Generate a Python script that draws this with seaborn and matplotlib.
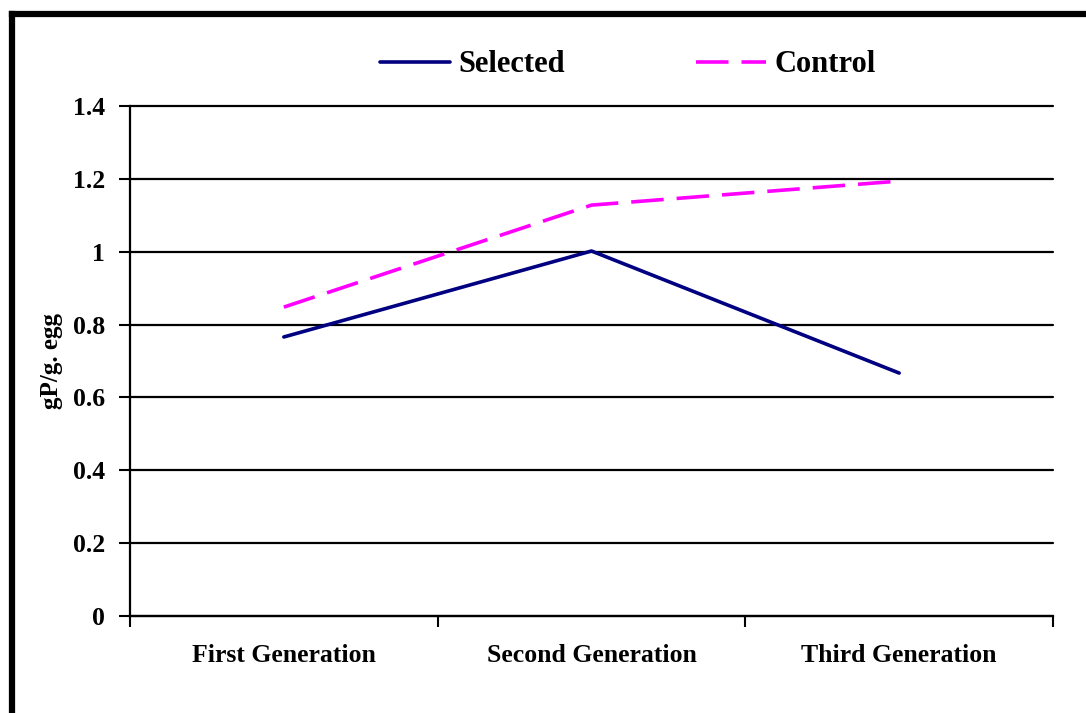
import pandas as pd
import matplotlib
matplotlib.use('Agg')
import matplotlib.pyplot as plt
import seaborn as sns
from matplotlib.lines import Line2D

# Data
generations = ['First Generation', 'Second Generation', 'Third Generation']
selected = [0.766, 1.002, 0.667]
control = [0.848, 1.128, 1.194]
y_ticks = [0, 0.2, 0.4, 0.6, 0.8, 1, 1.2, 1.4]
y_tick_labels = ['0', '0.2', '0.4', '0.6', '0.8', '1', '1.2', '1.4']

df = pd.DataFrame({
    'generation': generations * 2,
    'value': selected + control,
    'group': ['Selected'] * 3 + ['Control'] * 3,
})

sns.set_style('white')
plt.rcParams['font.family'] = ['Liberation Serif', 'DejaVu Serif']
plt.rcParams['font.weight'] = 'bold'
for key in ['text.color', 'axes.labelcolor', 'xtick.color', 'ytick.color']:
    plt.rcParams[key] = 'black'

fig = plt.figure(figsize=(10.86, 7.13), dpi=100)
ax = fig.add_axes([0.1197, 0.136, 0.8499, 0.7153])

sns.lineplot(data=df, x='generation', y='value', hue='group', style='group',
             palette={'Selected': '#000080', 'Control': '#FF00FF'},
             dashes={'Selected': '', 'Control': (9, 3.6)},
             hue_order=['Selected', 'Control'], style_order=['Selected', 'Control'],
             linewidth=2.6, sort=False, ax=ax)

ax.set_xlim(-0.5, 2.5)
ax.set_ylim(0, 1.4)
ax.set_yticks(y_ticks)
ax.set_yticklabels(y_tick_labels)
ax.set_xticks(range(len(generations)))
ax.set_xticklabels(generations)
ax.set_xticks([-0.5, 0.5, 1.5, 2.5], minor=True)
ax.tick_params(axis='x', which='major', length=0, pad=20, labelsize=18.5)
ax.tick_params(axis='x', which='minor', length=8, width=1.5, color='black', direction='out', bottom=True)
ax.tick_params(axis='y', length=8, width=1.5, color='black', direction='out', left=True, labelsize=18.5, pad=10)
ax.set_xlabel('')
ax.set_ylabel('gP/g. egg', fontsize=18, fontweight='bold', labelpad=7)

ax.yaxis.grid(True, color='black', linewidth=1.6)
for gl in ax.get_ygridlines():
    gl.set_clip_on(False)
for side in ['top', 'right']:
    ax.spines[side].set_visible(False)
for side in ['left', 'bottom']:
    ax.spines[side].set_color('black')
    ax.spines[side].set_linewidth(1.6)

handles, labels = ax.get_legend_handles_labels()
ax.get_legend().remove()
fig.legend(handles, labels, loc='center', bbox_to_anchor=(0.578, 0.909), ncol=2,
           frameon=False, handlelength=2.3, handletextpad=0.25,
           columnspacing=4.3, prop={'size': 22, 'weight': 'bold'})

# thick chart-area frame, cut off at the right and bottom
fx = 12 / 1086
fy = 1 - 14 / 713
fig.add_artist(Line2D([fx, fx], [-0.05, fy], transform=fig.transFigure, color='black', linewidth=4.5, solid_capstyle='projecting'))
fig.add_artist(Line2D([fx, 1.05], [fy, fy], transform=fig.transFigure, color='black', linewidth=4.5, solid_capstyle='projecting'))

fig.savefig('out.png', dpi=100)
plt.close(fig)
